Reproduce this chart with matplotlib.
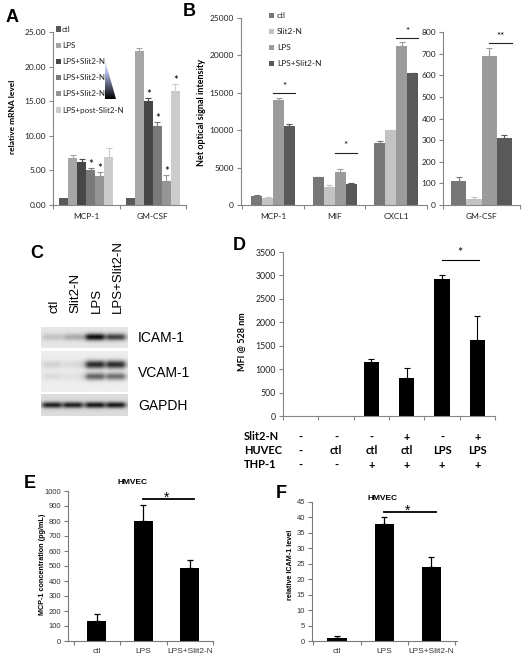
import numpy as np
import matplotlib
matplotlib.use("Agg")
import matplotlib.pyplot as plt
from matplotlib.patches import Rectangle, Polygon
from matplotlib.colors import LinearSegmentedColormap
import matplotlib.transforms as mtransforms

# ---------------- data ----------------
A_genes = ['MCP-1', 'GM-CSF']
A_series = ['ctl', 'LPS', 'LPS+Slit2-N', 'LPS+Slit2-N', 'LPS+Slit2-N', 'LPS+post-Slit2-N']
A_vals = [[1.0, 1.0], [6.8, 22.2], [6.2, 15.0], [5.0, 11.4], [4.2, 3.5], [6.9, 16.5]]
A_err = [[0.0, 0.0], [0.4, 0.5], [0.4, 0.5], [0.4, 0.6], [0.6, 0.8], [1.3, 1.0]]
A_star = [[0, 0], [0, 0], [0, 1], [1, 1], [1, 1], [0, 1]]
A_yticks = [0, 5, 10, 15, 20, 25]

B_genes = ['MCP-1', 'MIF', 'CXCL1']
B_series = ['ctl', 'Slit2-N', 'LPS', 'LPS+Slit2-N']
B_vals = [[1200, 3750, 8300], [950, 2400, 10000], [14000, 4400, 21300], [10500, 2800, 17600]]
B_err = [[80, 60, 200], [60, 300, 60], [300, 450, 450], [300, 150, 100]]
B_sig = [15000, 7000, 22300]
B_yticks = [0, 5000, 10000, 15000, 20000, 25000]
B2_gene = ['GM-CSF']
B2_vals = [110, 27, 688, 308]
B2_err = [18, 10, 36, 14]
B2_sig = 750
B2_yticks = [0, 100, 200, 300, 400, 500, 600, 700, 800]

C_lanes = ['ctl', 'Slit2-N', 'LPS', 'LPS+Slit2-N']
C_icam = [0.15, 0.25, 0.95, 0.72]
C_vcam_upper = [0.12, 0.08, 0.85, 0.85]
C_vcam_lower = [0.08, 0.05, 0.6, 0.55]
C_gapdh = [0.82, 0.82, 0.85, 0.85]

D_vals = [8, 8, 1150, 810, 2930, 1615]
D_err = [0, 0, 70, 220, 70, 525]
D_sig = 3320
D_yticks = [0, 500, 1000, 1500, 2000, 2500, 3000, 3500]
D_rows = ['Slit2-N', 'HUVEC', 'THP-1']
D_table = [['-', '-', '-', '+', '-', '+'],
           ['-', 'ctl', 'ctl', 'ctl', 'LPS', 'LPS'],
           ['-', '-', '+', '+', '+', '+']]

E_cats = ['ctl', 'LPS', 'LPS+Slit2-N']
E_vals = [135, 800, 490]
E_err = [47, 108, 48]
E_sig = 950
E_yticks = list(range(0, 1001, 100))

F_cats = ['ctl', 'LPS', 'LPS+Slit2-N']
F_vals = [1.0, 38.0, 24.1]
F_err = [0.5, 2.1, 3.1]
F_sig = 41.7
F_yticks = list(range(0, 46, 5))

# ---------------- layout helpers ----------------
W, H = 525, 657
fig = plt.figure(figsize=(W / 100, H / 100), dpi=100)
fig.patch.set_facecolor('white')

XL = 'Lato'
AR = 'Liberation Sans'
GRAY = '#868686'


def add_ax(x0, y0, x1, y1):
    return fig.add_axes([x0 / W, 1 - y1 / H, (x1 - x0) / W, (y1 - y0) / H])


def ftext(x, y, s, **kw):
    return fig.text(x / W, 1 - y / H, s, **kw)


def excel_axes(ax, ncat, color=GRAY, lw=0.8, fam=XL, fs=6.0, tcol='#222222', xpad=3):
    for s in ['top', 'right']:
        ax.spines[s].set_visible(False)
    for s in ['left', 'bottom']:
        ax.spines[s].set_color(color)
        ax.spines[s].set_linewidth(lw)
    ax.set_xticks(np.arange(-0.5, ncat, 1.0), minor=True)
    ax.tick_params(axis='y', direction='out', length=3, width=lw, color=color, pad=2,
                   labelsize=fs, labelcolor=tcol)
    ax.tick_params(axis='x', which='major', length=0, pad=xpad, labelsize=fs, labelcolor=tcol)
    ax.tick_params(axis='x', which='minor', direction='out', length=3, width=lw, color=color)
    for lab in ax.get_xticklabels() + ax.get_yticklabels():
        lab.set_family(fam)
    ax.set_facecolor('none')


def up_err(ax, xs, vals, errs, color, lw=0.8, cap=2):
    xs = np.asarray(xs); vals = np.asarray(vals, float); errs = np.asarray(errs, float)
    m = errs > 0
    if m.any():
        ax.errorbar(xs[m], vals[m], yerr=[np.zeros(m.sum()), errs[m]], fmt='none',
                    ecolor=color, elinewidth=lw, capsize=cap, capthick=lw)


# ---------------- Panel A ----------------
A_colors = ['#595959', '#a6a6a6', '#474747', '#7a7a7a', '#959595', '#cccccc']
axA = add_ax(53, 32, 186, 205)
nA = len(A_series)
wA = 0.135
xg = np.arange(len(A_genes))
for i in range(nA):
    xs = xg + (i - (nA - 1) / 2) * wA
    axA.bar(xs, A_vals[i], wA, color=A_colors[i], linewidth=0)
    up_err(axA, xs, A_vals[i], A_err[i], A_colors[i])
    for j in range(len(A_genes)):
        if A_star[i][j]:
            axA.text(xs[j], A_vals[i][j] + A_err[i][j] - 0.3, '*', ha='center', va='bottom',
                     fontsize=8, family=XL)
axA.set_xlim(-0.47, 1.5)
axA.set_ylim(0, 25)
axA.set_yticks(A_yticks)
axA.set_yticklabels(['%.2f' % v for v in A_yticks])
axA.set_xticks(xg)
axA.set_xticklabels(A_genes)
excel_axes(axA, len(A_genes), xpad=6)
ftext(13, 117, 'relative mRNA level', rotation=90, ha='center', va='center',
      fontsize=6, fontweight='bold', family=XL)
# legend
for i, name in enumerate(A_series):
    y = 29 + 16.2 * i
    fig.patches.append(Rectangle(((56) / W, 1 - (y + 2.5) / H), 5 / W, 5 / H,
                                 transform=fig.transFigure, color=A_colors[i], lw=0))
    ftext(62, y, name, ha='left', va='center', fontsize=5.8, family=XL, color='#222222')
# gradient wedge
axG = add_ax(105, 60, 116, 99)
cm = LinearSegmentedColormap.from_list('wedge', ['#f2f3fb', '#aeb7e2', '#55586e', '#000000'])
grad = np.linspace(0, 1, 200).reshape(-1, 1)
im = axG.imshow(grad, cmap=cm, aspect='auto', extent=[0, 1, 1, 0])
tri = Polygon([[0, 0], [0, 1], [1, 1]], closed=True, transform=axG.transData)
im.set_clip_path(tri)
axG.set_xlim(0, 1); axG.set_ylim(1, 0)
axG.axis('off')

# ---------------- Panel B ----------------
B_colors = ['#777777', '#c3c3c3', '#9b9b9b', '#595959']
axB = add_ax(241, 18, 427, 205)
nB = len(B_series)
wB = 0.178
xb = np.arange(len(B_genes))
for i in range(nB):
    xs = xb + (i - (nB - 1) / 2) * wB
    axB.bar(xs, B_vals[i], wB, color=B_colors[i], linewidth=0)
    up_err(axB, xs, B_vals[i], B_err[i], B_colors[i])
for j in range(len(B_genes)):
    x2 = xb[j] + 1.5 * wB + 0.5 * wB
    axB.plot([xb[j], x2], [B_sig[j], B_sig[j]], color='#222222', lw=0.8)
    axB.text((xb[j] + x2) / 2, B_sig[j] + 300, '*', ha='center', va='bottom', fontsize=7, family=XL)
axB.set_xlim(-0.52, 2.5)
axB.set_ylim(0, 25000)
axB.set_yticks(B_yticks)
axB.set_xticks(xb)
axB.set_xticklabels(B_genes)
excel_axes(axB, len(B_genes), xpad=6)
ftext(202, 112, 'Net optical signal intensity', rotation=90, ha='center', va='center',
      fontsize=6.5, fontweight='bold', family=XL)
for i, name in enumerate(B_series):
    y = 15 + 16 * i
    fig.patches.append(Rectangle((269 / W, 1 - (y + 2.5) / H), 5 / W, 5 / H,
                                 transform=fig.transFigure, color=B_colors[i], lw=0))
    ftext(277, y, name, ha='left', va='center', fontsize=6, family=XL, color='#222222')

axB2 = add_ax(443, 32, 520, 205)
for i in range(nB):
    xs = np.array([(i - (nB - 1) / 2) * 0.195])
    axB2.bar(xs, [B2_vals[i]], 0.195, color=B_colors[i], linewidth=0)
    up_err(axB2, xs, [B2_vals[i]], [B2_err[i]], B_colors[i])
xs3 = (2 - 1.5) * 0.195
xs4 = (3 - 1.5) * 0.195 + 0.1
axB2.plot([xs3, xs4], [B2_sig, B2_sig], color='#222222', lw=0.8)
axB2.text((xs3 + xs4) / 2, B2_sig + 8, '**', ha='center', va='bottom', fontsize=7, family=XL)
axB2.set_xlim(-0.5, 0.5)
axB2.set_ylim(0, 800)
axB2.set_yticks(B2_yticks)
axB2.set_xticks([0])
axB2.set_xticklabels(B2_gene)
excel_axes(axB2, 1, xpad=6)

# ---------------- Panel C (western blot) ----------------
lane_x = [52, 73, 95, 116]


def blot(y0, y1, bands, bg):
    ax = add_ax(41, y0, 128, y1)
    hp = y1 - y0
    ny, nx = hp * 4, 87 * 4
    yy, xx = np.mgrid[0:ny, 0:nx]
    yf = (yy + 0.5) / ny
    xf = (xx + 0.5) / nx * 87 + 41
    img = np.full((ny, nx), bg)
    for yc, wy, ints in bands:
        for k, I in enumerate(ints):
            bx = 1 / (1 + ((xf - lane_x[k]) / 9.5) ** 6)
            by = np.exp(-((yf - yc) / wy) ** 2)
            img = img - 0.88 * I * bx * by
    img = np.clip(img, 0, 1)
    ax.imshow(img, cmap='gray', vmin=0, vmax=1, aspect='auto', extent=[0, 1, 1, 0],
              interpolation='bilinear')
    ax.axis('off')
    return ax


blot(327, 348, [(0.5, 0.16, C_icam)], 0.90)
blot(351, 392, [(0.33, 0.10, C_vcam_upper), (0.62, 0.09, C_vcam_lower)], 0.93)
blot(394, 416, [(0.5, 0.14, C_gapdh)], 0.86)
for k, lab in enumerate(C_lanes):
    ftext(lane_x[k] + 2, 313, lab, rotation=90, ha='center', va='bottom', fontsize=9.5, family=AR)
ftext(138, 338, 'ICAM-1', ha='left', va='center', fontsize=10, family=AR)
ftext(138, 373, 'VCAM-1', ha='left', va='center', fontsize=10, family=AR)
ftext(138, 406, 'GAPDH', ha='left', va='center', fontsize=10, family=AR)

# ---------------- Panel D ----------------
axD = add_ax(283, 252, 495, 416)
xd = np.arange(len(D_vals))
axD.bar(xd, D_vals, 0.43, color='black', linewidth=0)
up_err(axD, xd, D_vals, D_err, 'black')
axD.plot([4, 5.05], [D_sig, D_sig], color='black', lw=0.8)
axD.text(4.5, D_sig + 20, '*', ha='center', va='bottom', fontsize=9, family=XL)
axD.set_xlim(-0.5, 5.5)
axD.set_ylim(0, 3500)
axD.set_yticks(D_yticks)
axD.set_xticks(xd)
axD.set_xticklabels([''] * len(xd))
excel_axes(axD, len(xd), fs=6.3)
ftext(242, 342, 'MFI @ 528 nm', rotation=90, ha='center', va='center',
      fontsize=6.5, fontweight='bold', family=XL)
trD = mtransforms.blended_transform_factory(axD.transData, fig.transFigure)
row_y = [437, 451, 465]
for r, name in enumerate(D_rows):
    ftext(244, row_y[r], name, ha='left', va='center', fontsize=8, fontweight='bold', family=XL)
    for k, v in enumerate(D_table[r]):
        axD.text(xd[k], 1 - row_y[r] / H, v, transform=trD, ha='center', va='center',
                 fontsize=8, fontweight='bold', family=XL, clip_on=False)


# ---------------- Panels E, F ----------------
def panel_ef(box, cats, vals, errs, sig, yticks, ylim, xlim, ylabel, title_xy, ylab_xy, sig_off):
    ax = add_ax(*box)
    xe = np.arange(len(cats))
    ax.bar(xe, vals, 0.41, color='black', linewidth=0)
    up_err(ax, xe, vals, errs, 'black', lw=0.9, cap=2.5)
    ax.plot([1, 2.1], [sig, sig], color='black', lw=1.3)
    ax.text(1.5, sig + sig_off, '*', ha='center', va='bottom', fontsize=10, family=AR)
    ax.set_xlim(*xlim)
    ax.set_ylim(*ylim)
    ax.set_yticks(yticks)
    ax.set_xticks(xe)
    ax.set_xticklabels(cats)
    excel_axes(ax, len(cats), color='#7a7a7a', lw=0.8, fam=AR, fs=5.5, tcol='#333333', xpad=5)
    for lab in ax.get_xticklabels():
        lab.set_fontsize(6)
    ftext(title_xy[0], title_xy[1], 'HMVEC', ha='center', va='center', fontsize=6,
          fontweight='bold', family=AR)
    ftext(ylab_xy[0], ylab_xy[1], ylabel, rotation=90, ha='center', va='center',
          fontsize=5.2, fontweight='bold', family=AR)
    return ax


panel_ef((68, 491, 213, 641), E_cats, E_vals, E_err, E_sig, E_yticks, (0, 1000), (-0.62, 2.49),
         'MCP-1 concentration (pg/mL)', (133, 483), (43, 564), -40)
panel_ef((312, 502, 457, 641), F_cats, F_vals, F_err, F_sig, F_yticks, (0, 45), (-0.53, 2.54),
         'relative ICAM-1 level', (383, 498), (290, 565), -1.8)

# ---------------- panel letters ----------------
for s, (x, y) in zip('ABCDEF', [(12, 18), (189, 12), (37, 254), (239, 246), (30, 484), (281, 493)]):
    ftext(x, y, s, ha='center', va='center', fontsize=13, fontweight='bold', family=AR)

fig.savefig('out.png', dpi=100, facecolor='white')
